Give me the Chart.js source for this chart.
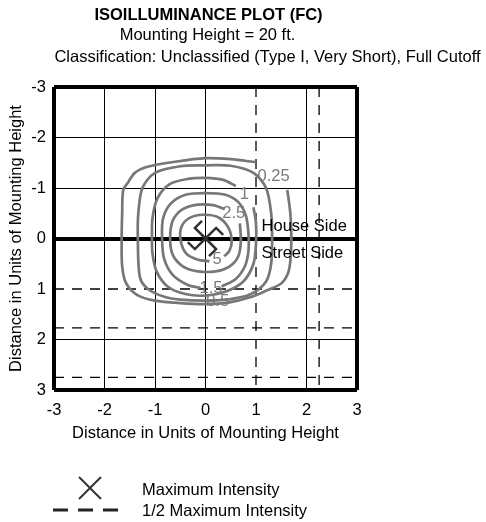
<!DOCTYPE html>
<html>
<head>
<meta charset="utf-8">
<script src="https://cdn.jsdelivr.net/npm/chart.js@4"></script>
<style>
  html, body { margin: 0; padding: 0; background: #fff; }
  #wrap { width: 486px; height: 522px; }
</style>
</head>
<body>
<div id="wrap"><canvas id="iso" width="486" height="522"></canvas></div>
<script>
const FONT = "'Liberation Sans', Arial, sans-serif";

// half max intensity lines
const halfMaxX = [1.0, 2.25];
const halfMaxY = [1.0, 1.77, 2.75];
// maximum intensity point
const maxX = [0];
const maxY = [0];

// isolines (fc)
const c025x = [1.62, 1.68, 1.70, 1.68, 1.63, 1.50, 1.23, 0.90, 0.45, 0.00, -0.50, -1.00, -1.35, -1.57, -1.65, -1.66, -1.65, -1.63, -1.54, -1.40, -1.15, -0.60, 0.00, 0.50, 1.00];
const c025y = [-0.96, -0.50, 0.00, 0.45, 0.70, 0.89, 1.02, 1.16, 1.27, 1.30, 1.28, 1.23, 1.12, 0.89, 0.55, 0.00, -0.50, -0.96, -1.10, -1.30, -1.42, -1.52, -1.59, -1.57, -1.51];

const c05x = [0.00, 0.50, 0.95, 1.20, 1.30, 1.32, 1.30, 1.20, 0.90, 0.50, 0.00, -0.50, -0.80, -1.14, -1.30, -1.34, -1.33, -1.25, -1.00, -0.50, 0.00];
const c05y = [-1.45, -1.44, -1.30, -1.00, -0.50, 0.00, 0.50, 0.85, 1.10, 1.20, 1.23, 1.21, 1.16, 1.00, 0.76, 0.00, -0.50, -1.00, -1.30, -1.43, -1.45];

const c1x = [0.95, 1.00, 1.00, 0.95, 0.75, 0.40, 0.00, -0.40, -0.75, -0.97, -1.05, -1.06, -1.05, -0.95, -0.70, -0.35, 0.00, 0.35, 0.60];
const c1y = [-0.62, -0.30, 0.10, 0.50, 0.85, 1.05, 1.13, 1.10, 0.95, 0.65, 0.30, 0.00, -0.40, -0.80, -1.08, -1.18, -1.20, -1.16, -1.04];

const c15x = [0.32, 0.60, 0.78, 0.85, 0.85, 0.80, 0.65, 0.38, 0.00, -0.38, -0.68, -0.84, -0.86, -0.82, -0.65, -0.35, -0.10];
const c15y = [0.95, 0.80, 0.55, 0.25, -0.10, -0.45, -0.72, -0.87, -0.90, -0.87, -0.70, -0.40, 0.00, 0.40, 0.72, 0.92, 0.98];

const c25x = [0.68, 0.70, 0.65, 0.48, 0.20, -0.15, -0.45, -0.65, -0.70, -0.65, -0.45, -0.15, 0.15, 0.38];
const c25y = [-0.30, 0.05, 0.35, 0.55, 0.65, 0.65, 0.55, 0.32, 0.00, -0.35, -0.58, -0.67, -0.66, -0.58];

const c5x = [0.08, -0.15, -0.38, -0.49, -0.48, -0.33, -0.05, 0.25, 0.45, 0.52, 0.47, 0.37];
const c5y = [0.45, 0.42, 0.30, 0.05, -0.22, -0.40, -0.47, -0.42, -0.22, 0.05, 0.25, 0.35];

// isoline labels
const isoLabels = ['0.25', '1', '2.5', '5', '1.5', '0.5'];
const isoLabelX = [1.03, 0.77, 0.56, 0.23, 0.11, 0.24];
const isoLabelY = [-1.23, -0.87, -0.50, 0.42, 0.99, 1.25];

const contours = [[c025x, c025y], [c05x, c05y], [c1x, c1y], [c15x, c15y], [c25x, c25y], [c5x, c5y]];

const datasets = [];
contours.forEach(([xs, ys]) => {
  datasets.push({
    data: xs.map((v, i) => ({ x: v, y: ys[i] })),
    showLine: true,
    borderColor: '#777777',
    borderWidth: 2.7,
    pointRadius: 0,
    tension: 0.3,
    fill: false,
  });
});
halfMaxX.forEach(v => {
  datasets.push({
    data: [{ x: v, y: -3 }, { x: v, y: 3 }],
    showLine: true, borderColor: '#000', borderWidth: 1.3, borderDash: [10, 8], pointRadius: 0,
  });
});
halfMaxY.forEach(v => {
  datasets.push({
    data: [{ x: -3, y: v }, { x: 3, y: v }],
    showLine: true, borderColor: '#000', borderWidth: 1.3, borderDash: [10, 8], pointRadius: 0,
  });
});

function tickVal(ctx) {
  return ctx.tick ? ctx.tick.value : null;
}

const textPlugin = {
  id: 'isoText',
  afterDraw(chart) {
    const ctx = chart.ctx;
    const xs = chart.scales.x, ys = chart.scales.y;
    ctx.save();

    // max intensity mark (pinwheel)
    ctx.strokeStyle = '#333';
    ctx.lineWidth = 2.5;
    ctx.lineCap = 'butt';
    const cx = xs.getPixelForValue(maxX[0]);
    const cy = ys.getPixelForValue(maxY[0]);
    const arm = 15, hook = 10;
    [[-1, -1], [1, -1], [1, 1], [-1, 1]].forEach(([dx, dy]) => {
      const ux = dx / Math.SQRT2, uy = dy / Math.SQRT2;
      const ex = cx + ux * arm, ey = cy + uy * arm;
      ctx.beginPath();
      ctx.moveTo(cx, cy);
      ctx.lineTo(ex, ey);
      ctx.lineTo(ex - uy * hook, ey + ux * hook);
      ctx.stroke();
    });

    // isoline labels
    ctx.fillStyle = '#7a7a7a';
    ctx.font = '16.5px ' + FONT;
    ctx.textBaseline = 'middle';
    isoLabels.forEach((t, i) => {
      ctx.textAlign = i === 0 ? 'left' : 'center';
      ctx.fillText(t, xs.getPixelForValue(isoLabelX[i]), ys.getPixelForValue(isoLabelY[i]));
    });

    // side labels
    ctx.fillStyle = '#000';
    ctx.textAlign = 'left';
    ctx.fillText('House Side', xs.getPixelForValue(1.11), ys.getPixelForValue(-0.24));
    ctx.fillText('Street Side', xs.getPixelForValue(1.11), ys.getPixelForValue(0.30));

    // titles
    ctx.textAlign = 'center';
    ctx.font = 'bold 16.5px ' + FONT;
    ctx.fillText('ISOILLUMINANCE PLOT (FC)', 208.5, 15);
    ctx.font = '16.5px ' + FONT;
    ctx.fillText('Mounting Height = 20 ft.', 207.5, 35);
    ctx.fillText('Classification: Unclassified (Type I, Very Short), Full Cutoff', 267.5, 57);

    // legend
    ctx.strokeStyle = '#333';
    ctx.lineWidth = 2;
    ctx.beginPath();
    ctx.moveTo(79, 477); ctx.lineTo(101, 499);
    ctx.moveTo(101, 477); ctx.lineTo(79, 499);
    ctx.stroke();
    ctx.strokeStyle = '#222';
    ctx.lineWidth = 3;
    ctx.setLineDash([15, 10]);
    ctx.beginPath();
    ctx.moveTo(53, 510); ctx.lineTo(118, 510);
    ctx.stroke();
    ctx.setLineDash([]);
    ctx.textAlign = 'left';
    ctx.fillText('Maximum Intensity', 142, 490);
    ctx.fillText('1/2 Maximum Intensity', 142, 511);

    ctx.restore();
  }
};

new Chart(document.getElementById('iso'), {
  type: 'scatter',
  data: { datasets },
  options: {
    responsive: false,
    animation: false,
    events: [],
    layout: { padding: { top: 87, right: 129, bottom: 72, left: 0 } },
    plugins: { legend: { display: false }, tooltip: { enabled: false } },
    scales: {
      x: {
        type: 'linear', min: -3, max: 3, position: 'bottom', z: 1,
        afterFit: s => { s.height = 60; },
        ticks: { stepSize: 1, padding: 11, color: '#000', font: { size: 16.5, family: FONT } },
        grid: {
          drawTicks: false,
          color: ctx => tickVal(ctx) === 1 ? 'rgba(0,0,0,0)' : '#000',
          lineWidth: ctx => Math.abs(tickVal(ctx)) === 3 ? 4 : 1,
        },
        border: { display: false },
        title: {
          display: true, text: 'Distance in Units of Mounting Height', color: '#000',
          font: { size: 16.5, family: FONT }, padding: { top: 0, bottom: 7 },
        },
      },
      y: {
        type: 'linear', min: -3, max: 3, reverse: true, z: 1,
        afterFit: s => { s.width = 54; },
        ticks: { stepSize: 1, padding: 8, color: '#000', font: { size: 16.5, family: FONT } },
        grid: {
          drawTicks: false,
          color: ctx => tickVal(ctx) === 1 ? 'rgba(0,0,0,0)' : '#000',
          lineWidth: ctx => {
            const v = tickVal(ctx);
            return (v === 0 || Math.abs(v) === 3) ? 4 : 1;
          },
        },
        border: { display: false },
        title: {
          display: true, text: 'Distance in Units of Mounting Height', color: '#000',
          font: { size: 16.5, family: FONT }, padding: { top: 6.5, bottom: 0 },
        },
      },
    },
  },
  plugins: [textPlugin],
});
</script>
</body>
</html>
